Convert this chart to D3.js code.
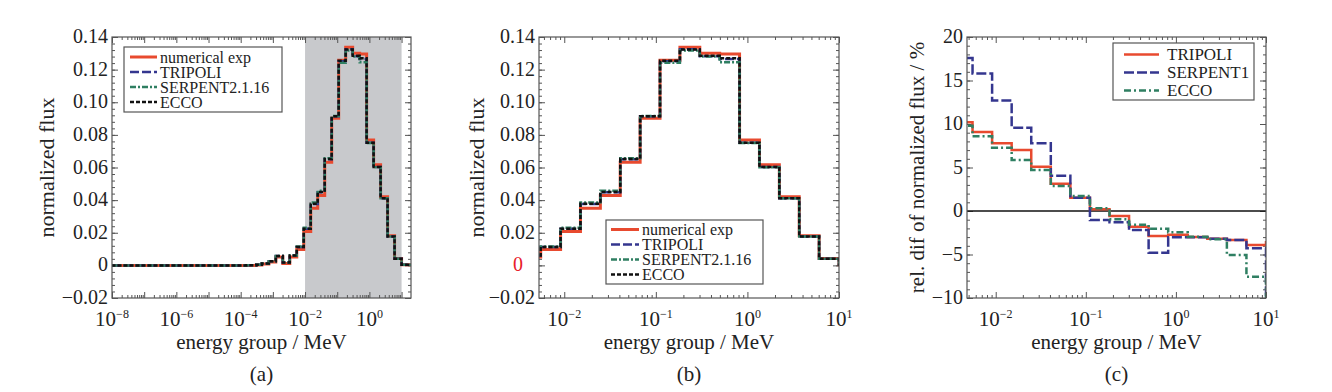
<!DOCTYPE html>
<html>
<head>
<meta charset="utf-8">
<script src="https://cdn.jsdelivr.net/npm/d3@7"></script>
<style>
  body { margin: 0; background: #fff; }
  svg { display: block; font-family: "Liberation Serif", "Times New Roman", serif; }
</style>
</head>
<body>
<script>
// ECCO 33 group boundaries in MeV (ascending)
const bounds = [1e-11, 1e-7, 5.4e-7, 4e-6, 8.315e-6, 1.371e-5, 2.260e-5, 4.017e-5, 6.790e-5, 9.166e-5,
                1.486e-4, 3.043e-4, 4.540e-4, 7.485e-4, 1.234e-3, 2.035e-3, 3.355e-3, 5.531e-3, 9.119e-3,
                1.503e-2, 2.479e-2, 4.087e-2, 6.738e-2, 0.1111, 0.1832, 0.3020, 0.4979, 0.8209, 1.353,
                2.231, 3.679, 6.065, 10, 19.64];

// normalized flux per group (a) and (b)
const fluxExp     = [0, 0, 0, 0, 0, 0, 0, 0, 0, 0,
                     0.0000, 0.0002, 0.0008, 0.0020, 0.0052, 0.0012, 0.0052, 0.0098, 0.0207, 0.0350, 0.0428,
                     0.0632, 0.0902, 0.1258, 0.1337, 0.1300, 0.1296, 0.0769, 0.0617, 0.0421, 0.0182, 0.0042, 0.0004];
const fluxTripoli = [0, 0, 0, 0, 0, 0, 0, 0, 0, 0,
                     0.0001, 0.0004, 0.0011, 0.0025, 0.0058, 0.0018, 0.0060, 0.0113, 0.0224, 0.0377, 0.0449,
                     0.0651, 0.0914, 0.1252, 0.1325, 0.1282, 0.1265, 0.0752, 0.0603, 0.0412, 0.0177, 0.0041, 0.0004];
const fluxSerpent = [0, 0, 0, 0, 0, 0, 0, 0, 0, 0,
                     0.0001, 0.0004, 0.0011, 0.0025, 0.0058, 0.0018, 0.0061, 0.0115, 0.0230, 0.0385, 0.0458,
                     0.0656, 0.0916, 0.1242, 0.1318, 0.1280, 0.1245, 0.0750, 0.0602, 0.0411, 0.0177, 0.0041, 0.0004];
const fluxEcco    = [0, 0, 0, 0, 0, 0, 0, 0, 0, 0,
                     0.0001, 0.0004, 0.0011, 0.0025, 0.0058, 0.0018, 0.0060, 0.0113, 0.0225, 0.0378, 0.0450,
                     0.0652, 0.0914, 0.1255, 0.1324, 0.1285, 0.1270, 0.0752, 0.0603, 0.0412, 0.0177, 0.0041, 0.0004];

// relative difference in % for groups 16..32 (panel c)
const diffStart = 16;
const diffTripoli = [10.2, 9.08, 7.78, 7.0, 5.1, 3.14, 1.53, 0.19, -0.57, -1.8, -2.87, -2.72, -2.99, -3.18, -3.33, -3.9, -3.6];
const diffSerpent = [17.6, 15.8, 12.7, 9.58, 7.78, 4.06, 1.53, -1.03, -1.3, -2.18, -4.79, -3.03, -3.03, -3.18, -3.33, -4.29, -12];
const diffEcco    = [9.8, 8.6, 7.28, 5.86, 4.7, 2.87, 1.72, 0.31, -0.96, -1.57, -2.03, -2.45, -2.95, -3.26, -5.06, -7.55, -12];

const fluxTicks = [-0.02, 0, 0.02, 0.04, 0.06, 0.08, 0.10, 0.12, 0.14];
const fluxLabels = ['\u22120.02', '0', '0.02', '0.04', '0.06', '0.08', '0.10', '0.12', '0.14'];
const diffTicks = [-10, -5, 0, 5, 10, 15, 20];
const diffLabels = ['\u221210', '\u22125', '0', '5', '10', '15', '20'];
const expA = [-8, -6, -4, -2, 0];
const expB = [-2, -1, 0, 1];

const RED = '#e84a2f', BLUE = '#34368f', GREEN = '#2f7f62', BLACK = '#111';

const styleAB = [
  {name: 'numerical exp', color: RED, dash: null, width: 3, data: fluxExp},
  {name: 'TRIPOLI', color: BLUE, dash: '9,3', width: 2.5, data: fluxTripoli},
  {name: 'SERPENT2.1.16', color: GREEN, dash: '6,2,2,2', width: 2.5, data: fluxSerpent},
  {name: 'ECCO', color: BLACK, dash: '4,2', width: 2.5, data: fluxEcco}
];
const styleC = [
  {name: 'TRIPOLI', color: RED, dash: null, width: 2.5, data: diffTripoli},
  {name: 'SERPENT1', color: BLUE, dash: '10,3', width: 2.5, data: diffSerpent},
  {name: 'ECCO', color: GREEN, dash: '7,3,2,3', width: 2.5, data: diffEcco}
];

const W = 1332, H = 392, TOP = 37, BOTTOM = 298;
const SVG = d3.select('body').append('svg').attr('width', W).attr('height', H);

function panel(opt) {
  const g = SVG.append('g');
  const x = d3.scaleLog().domain(opt.xDomain).range([opt.left, opt.right]);
  const y = d3.scaleLinear().domain(opt.yDomain).range([BOTTOM, TOP]);

  const clipId = 'clip' + opt.id;
  SVG.append('clipPath').attr('id', clipId)
     .append('rect').attr('x', opt.left).attr('y', TOP)
     .attr('width', opt.right - opt.left).attr('height', BOTTOM - TOP);

  if (opt.shade) {
    g.append('rect')
     .attr('x', x(opt.shade[0])).attr('y', TOP)
     .attr('width', x(opt.shade[1]) - x(opt.shade[0]))
     .attr('height', BOTTOM - TOP)
     .attr('fill', '#c8c9cc');
  }

  // ticks
  const lo = Math.floor(Math.log10(opt.xDomain[0])), hi = Math.ceil(Math.log10(opt.xDomain[1]));
  const xMajor = [], xMinor = [];
  for (let d = lo; d <= hi; d++) {
    const v = Math.pow(10, d);
    if (v >= opt.xDomain[0] && v <= opt.xDomain[1] * 1.0001) xMajor.push(v);
    for (let k = 2; k < 10; k++) {
      const m = k * v;
      if (m >= opt.xDomain[0] && m <= opt.xDomain[1]) xMinor.push(m);
    }
  }
  const yMinor = d3.range(opt.yDomain[0], opt.yDomain[1] + 1e-9, opt.yMinorStep);

  const addAxis = (axis, tf) => {
    const a = g.append('g').attr('transform', tf).call(axis);
    a.select('.domain').remove();
    a.selectAll('line').attr('stroke', '#555');
  };
  const blank = () => '';
  addAxis(d3.axisBottom(x).tickValues(xMajor).tickSize(-6).tickFormat(blank), `translate(0,${BOTTOM})`);
  addAxis(d3.axisBottom(x).tickValues(xMinor).tickSize(-3).tickFormat(blank), `translate(0,${BOTTOM})`);
  addAxis(d3.axisTop(x).tickValues(xMajor).tickSize(-6).tickFormat(blank), `translate(0,${TOP})`);
  addAxis(d3.axisTop(x).tickValues(xMinor).tickSize(-3).tickFormat(blank), `translate(0,${TOP})`);
  addAxis(d3.axisLeft(y).tickValues(opt.yTicks).tickSize(-6).tickFormat(blank), `translate(${opt.left},0)`);
  addAxis(d3.axisLeft(y).tickValues(yMinor).tickSize(-3).tickFormat(blank), `translate(${opt.left},0)`);
  addAxis(d3.axisRight(y).tickValues(opt.yTicks).tickSize(-6).tickFormat(blank), `translate(${opt.right},0)`);
  addAxis(d3.axisRight(y).tickValues(yMinor).tickSize(-3).tickFormat(blank), `translate(${opt.right},0)`);

  // zero line
  if (opt.zeroLine) {
    g.append('line').attr('x1', opt.left).attr('x2', opt.right)
     .attr('y1', y(0)).attr('y2', y(0))
     .attr('stroke', '#111').attr('stroke-width', 1.5);
  }

  // step curves
  const line = d3.line().x(d => x(d[0])).y(d => y(d[1])).curve(d3.curveStepAfter);
  const lines = g.append('g').attr('clip-path', `url(#${clipId})`);
  opt.series.forEach(s => {
    const pts = s.data.map((v, i) => [bounds[opt.offset + i], v]);
    pts.push([bounds[opt.offset + s.data.length], s.data[s.data.length - 1]]);
    lines.append('path').datum(pts)
      .attr('d', line)
      .attr('fill', 'none')
      .attr('stroke', s.color)
      .attr('stroke-width', s.width)
      .attr('stroke-dasharray', s.dash);
  });

  // frame
  g.append('rect').attr('x', opt.left).attr('y', TOP)
   .attr('width', opt.right - opt.left).attr('height', BOTTOM - TOP)
   .attr('fill', 'none').attr('stroke', '#555').attr('stroke-width', 1.2);

  // y tick labels
  g.selectAll('.ylab').data(opt.yTicks).enter().append('text')
   .attr('x', (d) => (opt.redZero && d === 0) ? opt.left - 21 : opt.left - 4)
   .attr('y', d => y(d))
   .attr('dy', '0.3em')
   .attr('text-anchor', d => (opt.redZero && d === 0) ? 'middle' : 'end')
   .attr('font-size', 20)
   .attr('fill', d => (opt.redZero && d === 0) ? '#e8202a' : '#222')
   .text((d, i) => opt.yLabels[i]);

  // x tick labels 10^n
  opt.xExp.forEach(e => {
    const t = g.append('text')
      .attr('x', x(Math.pow(10, e)))
      .attr('y', BOTTOM + 28)
      .attr('text-anchor', 'middle')
      .attr('font-size', 21)
      .attr('fill', '#222');
    t.append('tspan').text('10');
    t.append('tspan').attr('dy', -8).attr('font-size', 12)
     .text(e < 0 ? '\u2212' + Math.abs(e) : String(e));
  });

  // axis titles
  const cx = (opt.left + opt.right) / 2;
  g.append('text').attr('x', cx).attr('y', 349)
   .attr('text-anchor', 'middle').attr('font-size', 21).attr('fill', '#222')
   .text('energy group / MeV');
  g.append('text')
   .attr('transform', `translate(${opt.yTitleX},${(TOP + BOTTOM) / 2}) rotate(-90)`)
   .attr('text-anchor', 'middle').attr('font-size', opt.yTitleSize).attr('fill', '#222')
   .text(opt.yTitle);
  g.append('text').attr('x', cx).attr('y', 381)
   .attr('text-anchor', 'middle').attr('font-size', 21).attr('fill', '#222')
   .text(opt.tag);

  // legend
  const L = opt.legend;
  const lg = g.append('g');
  lg.append('rect').attr('x', L.x).attr('y', L.y).attr('width', L.w).attr('height', L.h)
    .attr('fill', '#fff').attr('stroke', '#555').attr('stroke-width', 1.2);
  opt.series.forEach((s, i) => {
    const ry = L.y + L.first + i * L.step;
    lg.append('line').attr('x1', L.x + L.l0).attr('x2', L.x + L.l1)
      .attr('y1', ry).attr('y2', ry)
      .attr('stroke', s.color).attr('stroke-width', s.width)
      .attr('stroke-dasharray', s.dash);
    lg.append('text').attr('x', L.x + L.tx).attr('y', ry).attr('dy', '0.35em')
      .attr('font-size', L.fs).attr('fill', '#222').text(s.name);
  });
}

panel({
  id: 'a', left: 112, right: 411, xDomain: [1e-8, 19.64], yDomain: [-0.02, 0.14],
  yTicks: fluxTicks, yLabels: fluxLabels, yMinorStep: 0.004, xExp: expA,
  shade: [0.01, 10], offset: 0, series: styleAB,
  yTitle: 'normalized flux', yTitleX: 54, yTitleSize: 22, tag: '(a)',
  legend: {x: 124, y: 47, w: 158, h: 65, first: 10, step: 15, l0: 6, l1: 33, tx: 36, fs: 16}
});

panel({
  id: 'b', left: 539, right: 839, xDomain: [0.0053, 10], yDomain: [-0.02, 0.14],
  yTicks: fluxTicks, yLabels: fluxLabels, yMinorStep: 0.004, xExp: expB, redZero: true,
  offset: 0, series: styleAB,
  yTitle: 'normalized flux', yTitleX: 484, yTitleSize: 22, tag: '(b)',
  legend: {x: 606, y: 220, w: 157, h: 64, first: 9.5, step: 15, l0: 5, l1: 33, tx: 36, fs: 16}
});

panel({
  id: 'c', left: 967, right: 1266, xDomain: [0.0048, 10], yDomain: [-10, 20],
  yTicks: diffTicks, yLabels: diffLabels, yMinorStep: 1, xExp: expB,
  offset: diffStart, series: styleC, zeroLine: true,
  yTitle: 'rel. dif of normalized flux / %', yTitleX: 924, yTitleSize: 21, tag: '(c)',
  legend: {x: 1113, y: 43, w: 141, h: 57, first: 11.5, step: 18, l0: 11, l1: 46, tx: 54, fs: 17}
});
</script>
</body>
</html>
